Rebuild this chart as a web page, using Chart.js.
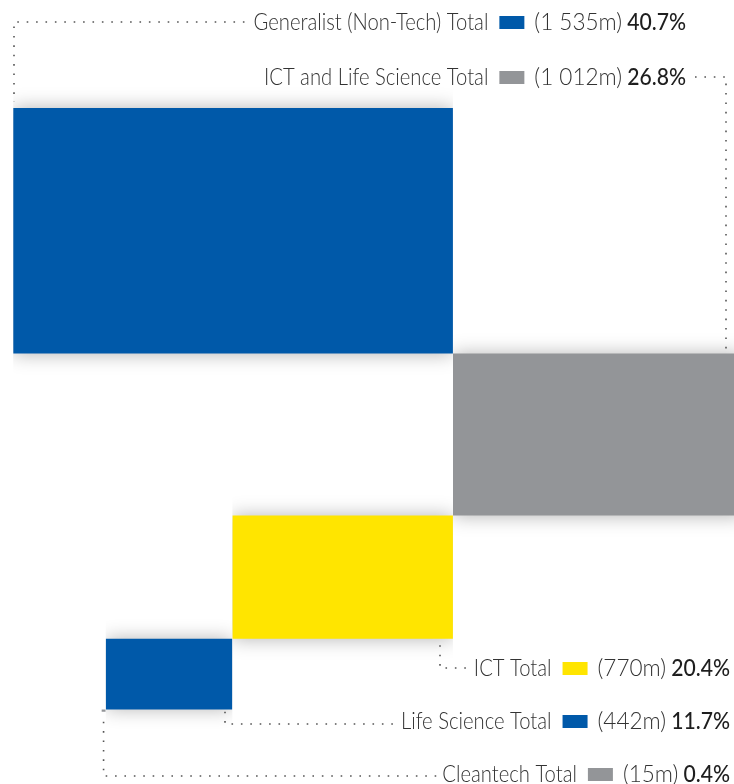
<!DOCTYPE html>
<html>
<head>
<meta charset="utf-8">
<title>Funds by focus</title>
<script src="https://cdn.jsdelivr.net/npm/chart.js@4.4.1/dist/chart.umd.min.js"></script>
<style>
  html, body { margin: 0; padding: 0; background: #fff; }
  #wrap { width: 734px; height: 784px; }
</style>
</head>
<body>
<div id="wrap"><canvas id="funds" width="734" height="784"></canvas></div>
<script>
// fund categories, amounts (EUR m) and share of total
const categories = ['Generalist (Non-Tech) Total', 'ICT and Life Science Total', 'ICT Total', 'Life Science Total', 'Cleantech Total'];
const amounts = [1535, 1012, 770, 442, 15];
const shares = [40.7, 26.8, 20.4, 11.7, 0.4];
const colors = ['#0059a9', '#939598', '#ffe500', '#0059a9', '#939598'];

// rectangles: width = amount on x, height = amount on y, laid out as a staircase
function buildRects() {
  const rects = [];
  amounts.forEach((v, i) => {
    let x0, y0;
    if (i === 0) { x0 = 0; y0 = 0; }
    else {
      const prev = rects[i - 1];
      y0 = prev.y1;
      x0 = (i === 1) ? prev.x1 : prev.x0 - v;
    }
    rects.push({ x0: x0, x1: x0 + v, y0: y0, y1: y0 + v });
  });
  return rects;
}
const rects = buildRects();

const datasets = rects.map((r, i) => ({
  label: categories[i],
  data: [{ x: r.x0, y: r.y0 }, { x: r.x1, y: r.y0 }],
  fill: { value: r.y1 },
  backgroundColor: colors[i],
  borderColor: 'rgba(0,0,0,0)',
  borderWidth: 0,
  pointRadius: 0,
  tension: 0
}));

function fmtAmount(v) {
  return '(' + String(v).replace(/\B(?=(\d{3})+(?!\d))/g, ' ') + 'm)';
}

// soft glow under the blocks
const shadowPlugin = {
  id: 'blockShadow',
  beforeDatasetsDraw(chart) {
    const ctx = chart.ctx;
    ctx.save();
    ctx.shadowColor = 'rgba(0,0,0,0.3)';
    ctx.shadowBlur = 18;
  },
  afterDatasetsDraw(chart) {
    chart.ctx.restore();
  }
};

// label rows: right edge, vertical middle
const rows = [
  { right: 686, y: 22 },
  { right: 686, y: 77 },
  { right: 730, y: 668 },
  { right: 730, y: 721 },
  { right: 730, y: 774 }
];

// right-aligned, horizontally condensed text; returns drawn width
function squeezedText(ctx, text, right, y, squeeze) {
  const w = ctx.measureText(text).width * squeeze;
  ctx.save();
  ctx.translate(right - w, y);
  ctx.scale(squeeze, 1);
  ctx.textAlign = 'left';
  ctx.fillText(text, 0, 0);
  ctx.restore();
  return w;
}

function dotted(ctx, pts) {
  ctx.save();
  ctx.strokeStyle = '#555';
  ctx.lineWidth = 1.6;
  ctx.setLineDash([1.6, 7.8]);
  ctx.beginPath();
  ctx.moveTo(pts[0][0], pts[0][1]);
  for (let i = 1; i < pts.length; i++) ctx.lineTo(pts[i][0], pts[i][1]);
  ctx.stroke();
  ctx.restore();
}

const labelPlugin = {
  id: 'blockLabels',
  afterDraw(chart) {
    const ctx = chart.ctx;
    const x = chart.scales.x, y = chart.scales.y;
    const px = v => x.getPixelForValue(v);
    const py = v => y.getPixelForValue(v);

    const starts = [];
    ctx.save();
    ctx.textBaseline = 'middle';
    rows.forEach((row, i) => {
      let cx = row.right;
      ctx.font = '500 23px Lato';
      ctx.fillStyle = '#1e1e1e';
      cx -= squeezedText(ctx, shares[i].toFixed(1) + '%', cx, row.y + 1, 0.92) + 5;

      ctx.font = '300 23px Lato';
      ctx.fillStyle = '#333';
      cx -= squeezedText(ctx, fmtAmount(amounts[i]), cx, row.y + 1, 0.98) + 10;

      ctx.fillStyle = colors[i];
      ctx.fillRect(cx - 25, row.y - 6, 25, 13);
      cx -= 25 + 11;

      ctx.fillStyle = '#333';
      cx -= squeezedText(ctx, categories[i], cx, row.y + 1, 0.88);
      starts.push(cx);
    });
    ctx.restore();

    // leader lines from the labels to their blocks
    const cleanMid = px((rects[4].x0 + rects[4].x1) / 2);
    dotted(ctx, [[starts[0] - 9, rows[0].y], [14, rows[0].y], [14, py(rects[0].y0) - 6]]);
    dotted(ctx, [[rows[1].right + 9, rows[1].y], [726, rows[1].y], [726, py(rects[1].y0) - 2]]);
    dotted(ctx, [[starts[2] - 8, rows[2].y], [440, rows[2].y], [440, py(rects[2].y1) + 2]]);
    dotted(ctx, [[starts[3] - 8, rows[3].y + 3], [225, rows[3].y + 3], [225, py(rects[3].y1) + 1]]);
    dotted(ctx, [[starts[4] - 6, rows[4].y + 2], [cleanMid, rows[4].y + 2], [cleanMid, py(rects[4].y1) + 5]]);
  }
};

new Chart(document.getElementById('funds').getContext('2d'), {
  type: 'line',
  data: { datasets: datasets },
  options: {
    responsive: false,
    animation: false,
    layout: { padding: 0 },
    plugins: { legend: { display: false }, tooltip: { enabled: false } },
    scales: {
      x: { type: 'linear', display: false, min: -46, max: 2516 },
      y: { type: 'linear', display: false, reverse: true, min: -675, max: 4225 }
    }
  },
  plugins: [shadowPlugin, labelPlugin]
});
</script>
</body>
</html>
